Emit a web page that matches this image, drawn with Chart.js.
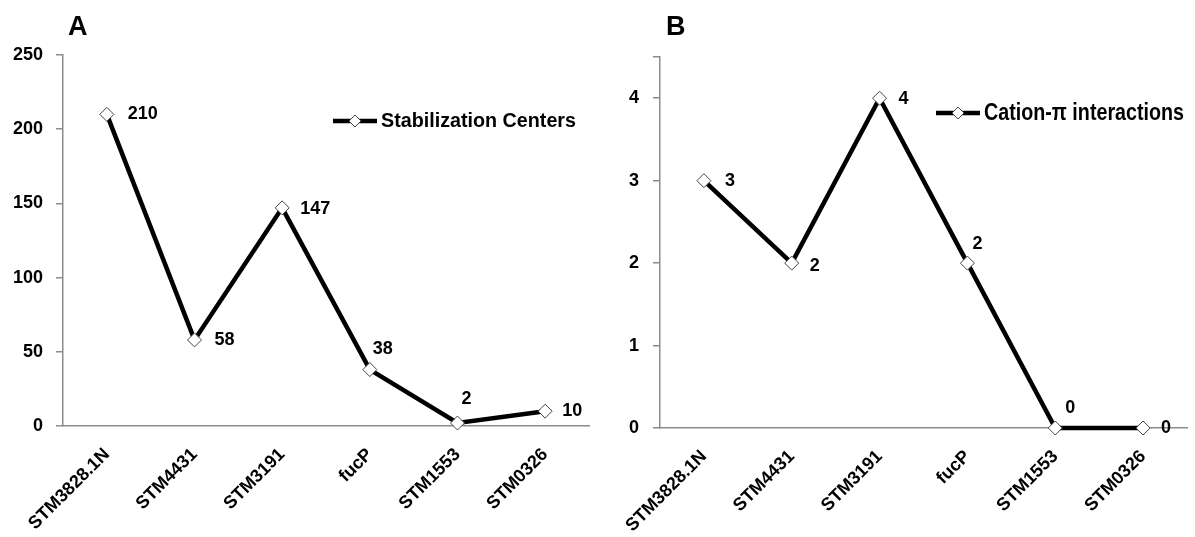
<!DOCTYPE html>
<html>
<head>
<meta charset="utf-8">
<script src="https://cdn.jsdelivr.net/npm/chart.js@4.4.1/dist/chart.umd.min.js"></script>
<style>
  html, body { margin: 0; padding: 0; background: #fff; }
  #wrap { position: relative; width: 1195px; height: 537px; overflow: hidden; }
  #chartA { position: absolute; left: 0; top: 0; }
  #chartB { position: absolute; left: 597px; top: 0; }
</style>
</head>
<body>
<div id="wrap">
  <canvas id="chartA" width="597" height="537"></canvas>
  <canvas id="chartB" width="598" height="537"></canvas>
</div>
<script>
// dados
const genes = ['STM3828.1N', 'STM4431', 'STM3191', 'fucP', 'STM1553', 'STM0326'];
const stabilizationCenters = [210, 58, 147, 38, 2, 10];
const cationPi = [3, 2, 4, 2, 0, 0];
const ticksA = [0, 50, 100, 150, 200, 250];
const ticksB = [0, 1, 2, 3, 4];
const topB = 4.5; // topo do eixo B, sem rotulo

// onde cada rotulo de valor fica em relacao ao ponto (dx, dy)
const labelOffsetsA = [[21, 0], [20, 0], [18, 1], [3, -21], [4, -24], [17, 0]];
const labelOffsetsB = [[21, 0], [18, 3], [19, 1], [5, -19], [10, -20], [18, 0]];

const SANS = '"Liberation Sans", Arial, sans-serif';
const NARROW = '"Liberation Sans Narrow", "Arial Narrow", "Liberation Sans", Arial, sans-serif';

// rotulos de valor, letra do painel e legenda manual
const decor = {
  id: 'decor',
  afterDatasetsDraw(chart, args, opts) {
    const ctx = chart.ctx;
    const meta = chart.getDatasetMeta(0);
    const values = chart.data.datasets[0].data;
    ctx.save();
    ctx.fillStyle = '#000';

    ctx.font = opts.valueFont;
    ctx.textAlign = 'left';
    ctx.textBaseline = 'middle';
    meta.data.forEach((pt, i) => {
      const [dx, dy] = opts.offsets[i];
      ctx.fillText(String(values[i]), pt.x + dx, pt.y + dy);
    });

    ctx.font = 'bold 27px ' + SANS;
    ctx.textBaseline = 'alphabetic';
    ctx.fillText(opts.letter, opts.letterX, 35);

    const lg = opts.legend;
    ctx.strokeStyle = '#000';
    ctx.lineWidth = 4.5;
    ctx.beginPath();
    ctx.moveTo(lg.x, lg.y);
    ctx.lineTo(lg.x + 44, lg.y);
    ctx.stroke();
    const cx = lg.x + 22, r = 6;
    ctx.beginPath();
    ctx.moveTo(cx - r, lg.y);
    ctx.lineTo(cx, lg.y - r);
    ctx.lineTo(cx + r, lg.y);
    ctx.lineTo(cx, lg.y + r);
    ctx.closePath();
    ctx.fillStyle = '#fff';
    ctx.fill();
    ctx.lineWidth = 1;
    ctx.strokeStyle = '#444';
    ctx.stroke();

    ctx.fillStyle = '#000';
    ctx.font = lg.font;
    ctx.textBaseline = 'middle';
    const w = ctx.measureText(lg.text).width;
    const sx = Math.min(1, lg.width / w);
    ctx.translate(lg.x + 48, lg.y);
    ctx.scale(sx, 1);
    ctx.fillText(lg.text, 0, 0);
    ctx.restore();
  }
};

function makeChart(id, values, yTicks, yMax, cfg) {
  return new Chart(document.getElementById(id), {
    type: 'line',
    data: {
      labels: genes,
      datasets: [{
        label: cfg.legend.text,
        data: values,
        borderColor: '#000',
        borderWidth: 4.5,
        pointStyle: 'rectRot',
        pointRadius: 7,
        pointBackgroundColor: '#fff',
        pointBorderColor: '#444',
        pointBorderWidth: 1,
        tension: 0,
        clip: false
      }]
    },
    options: {
      responsive: false,
      animation: false,
      layout: { padding: { top: cfg.top, right: cfg.right, left: 0, bottom: 0 } },
      scales: {
        x: {
          offset: true,
          grid: { display: false },
          border: { display: true, color: '#8c8c8c', width: 1.5 },
          ticks: {
            autoSkip: false,
            minRotation: 45,
            maxRotation: 45,
            padding: 10,
            color: '#000',
            font: { family: SANS, size: 18, weight: 'bold' }
          },
          afterFit: s => { s.height = cfg.xHeight; }
        },
        y: {
          min: 0,
          max: yMax,
          afterBuildTicks: s => {
            const t = yTicks.slice();
            if (t[t.length - 1] !== yMax) t.push(yMax);
            s.ticks = t.map(v => ({ value: v }));
          },
          ticks: {
            padding: cfg.tickPad,
            color: '#000',
            font: cfg.yFont,
            callback: v => (yTicks.includes(v) ? String(v) : '')
          },
          grid: { drawOnChartArea: false, drawTicks: true, tickLength: 7, color: '#8c8c8c', lineWidth: 1.5 },
          border: { display: true, color: '#8c8c8c', width: 1.5 },
          afterFit: s => { s.width = cfg.yWidth; }
        }
      },
      plugins: {
        legend: { display: false },
        tooltip: { enabled: false },
        decor: {
          offsets: cfg.offsets,
          valueFont: cfg.valueFont,
          letter: cfg.letter,
          letterX: cfg.letterX,
          legend: cfg.legend
        }
      }
    },
    plugins: [decor]
  });
}

makeChart('chartA', stabilizationCenters, ticksA, 250, {
  top: 55, right: 6, xHeight: 111, yWidth: 63, tickPad: 13,
  yFont: { family: SANS, size: 18, weight: 'bold' },
  valueFont: 'bold 18px ' + SANS,
  offsets: labelOffsetsA,
  letter: 'A', letterX: 68,
  legend: { x: 333, y: 121, text: 'Stabilization Centers', font: 'bold 20px ' + SANS, width: 195 }
});

makeChart('chartB', cationPi, ticksB, topB, {
  top: 57, right: 8, xHeight: 109, yWidth: 63, tickPad: 14,
  yFont: { family: NARROW, size: 18, weight: 'bold' },
  valueFont: 'bold 18px ' + NARROW,
  offsets: labelOffsetsB,
  letter: 'B', letterX: 69,
  legend: { x: 339, y: 113, text: 'Cation-\u03c0 interactions', font: 'bold 24px ' + NARROW, width: 200 }
});
</script>
</body>
</html>
